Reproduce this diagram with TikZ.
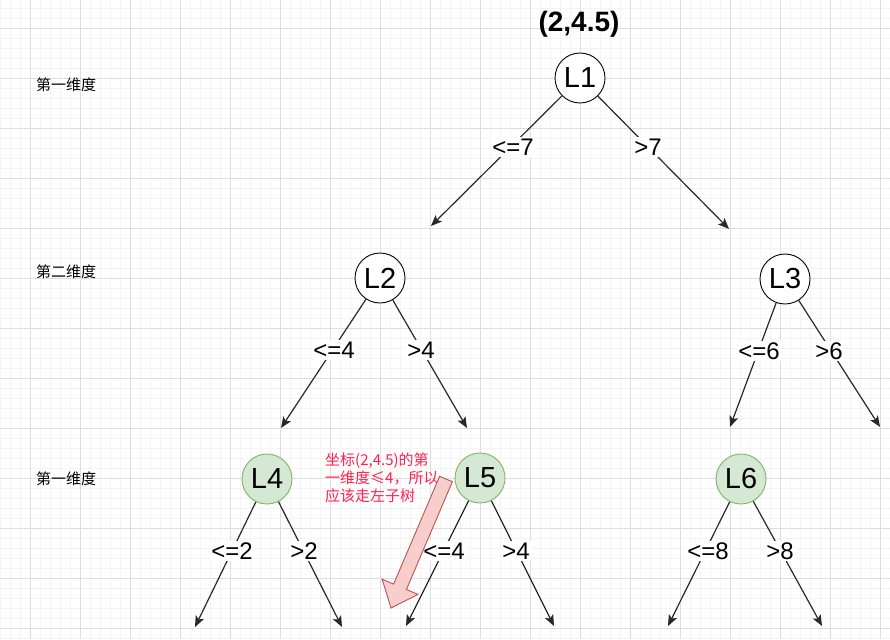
\documentclass[tikz,border=0pt]{standalone}
\usepackage{fontspec}
\setmainfont{Liberation Sans}
\newfontfamily\cjk{Noto Sans CJK SC}
\usetikzlibrary{arrows.meta}
\definecolor{gridminor}{RGB}{244,244,244}
\definecolor{gridmajor}{RGB}{222,222,222}
\definecolor{greenfill}{HTML}{D5E8D4}
\definecolor{greenline}{HTML}{82B366}
\definecolor{pinkfill}{HTML}{F8CECC}
\definecolor{pinkline}{HTML}{B85450}
\definecolor{notered}{RGB}{255,34,80}
\definecolor{edgecol}{RGB}{40,40,40}
\tikzset{
  treenode/.style={circle,draw=black,line width=0.9pt,fill=white,minimum size=50pt,inner sep=0pt,font=\fontsize{29}{29}\selectfont},
  leafnode/.style={treenode,draw=greenline,fill=greenfill},
  edgelabel/.style={fill=white,inner sep=1.5pt,font=\fontsize{24}{24}\selectfont},
  treeedge/.style={draw=edgecol,line width=1.2pt,-{Stealth[length=11pt,width=9pt,inset=2.5pt]}},
  dimlabel/.style={anchor=west,inner sep=0pt,font=\cjk\fontsize{15}{15}\selectfont},
}
\begin{document}
\begin{tikzpicture}[x=1pt,y=-1pt]
\useasboundingbox (0,0) rectangle (890,639);
\fill[white] (0,0) rectangle (890,639);
% grid
\foreach \i in {0,10,...,890} \draw[gridminor,line width=0.6pt] (\i,0) -- (\i,639);
\foreach \j in {8,18,...,639} \draw[gridminor,line width=0.6pt] (0,\j) -- (890,\j);
\foreach \i in {30,80,...,890} \draw[gridmajor,line width=0.7pt] (\i,0) -- (\i,639);
\foreach \j in {28,78,...,639} \draw[gridmajor,line width=0.7pt] (0,\j) -- (890,\j);

% title
\node[font=\bfseries\fontsize{28}{28}\selectfont] (title) at (579,24) {(2,4.5)};

% dimension labels
\node[dimlabel] (d1) at (36,85) {第一维度};
\node[dimlabel] (d2) at (36,272) {第二维度};
\node[dimlabel] (d3) at (36,479) {第一维度};

% tree nodes
\node[treenode] (L1) at (580,78) {L1};
\node[treenode] (L2) at (380,278) {L2};
\node[treenode] (L3) at (785,279) {L3};
\node[leafnode] (L4) at (267,479) {L4};
\node[leafnode] (L5) at (480,478) {L5};
\node[leafnode] (L6) at (741,479) {L6};

% target coordinates
\coordinate (t1l) at (431,226);
\coordinate (t1r) at (729,229);
\coordinate (t2l) at (281,428);
\coordinate (t2r) at (467,428);
\coordinate (t3l) at (730,427);
\coordinate (t3r) at (880,427);
\coordinate (t4l) at (195,627);
\coordinate (t4r) at (342,627);
\coordinate (t5l) at (406,626);
\coordinate (t5r) at (554,626);
\coordinate (t6l) at (668,626);
\coordinate (t6r) at (822,626);

% edges
\draw[treeedge] (L1) -- (t1l);
\draw[treeedge] (L1) -- (t1r);
\draw[treeedge] (L2) -- (t2l);
\draw[treeedge] (L2) -- (t2r);
\draw[treeedge] (L3) -- (t3l);
\draw[treeedge] (L3) -- (t3r);
\draw[treeedge] (L4) -- (t4l);
\draw[treeedge] (L4) -- (t4r);
\draw[treeedge] (L5) -- (t5l);
\draw[treeedge] (L5) -- (t5r);
\draw[treeedge] (L6) -- (t6l);
\draw[treeedge] (L6) -- (t6r);

% edge labels
\node[edgelabel] (e1l) at (513,147) {<=7};
\node[edgelabel] (e1r) at (648,147) {>7};
\node[edgelabel] (e2l) at (334,350) {<=4};
\node[edgelabel] (e2r) at (421,350) {>4};
\node[edgelabel] (e3l) at (759,351) {<=6};
\node[edgelabel] (e3r) at (829,351) {>6};
\node[edgelabel] (e4l) at (232,551) {<=2};
\node[edgelabel] (e4r) at (304,551) {>2};
\node[edgelabel] (e5l) at (444,551) {<=4};
\node[edgelabel] (e5r) at (516,551) {>4};
\node[edgelabel] (e6l) at (708,551) {<=8};
\node[edgelabel] (e6r) at (780,551) {>8};

% note
\node[anchor=north west,align=left,inner sep=0pt,text=notered,font=\cjk\fontsize{15}{18}\selectfont] (note) at (325,453) {坐标(2,4.5)的第\\一维度≤4，所以\\应该走左子树};

% big arrow
\filldraw[fill=pinkfill,draw=pinkline,line width=0.9pt]
  (452.4,481.7) -- (406.4,589.5) -- (417.9,594.4) -- (391,608) -- (382.1,579.2) -- (393.6,584.1) -- (439.6,476.3) -- cycle;
\end{tikzpicture}
\end{document}
